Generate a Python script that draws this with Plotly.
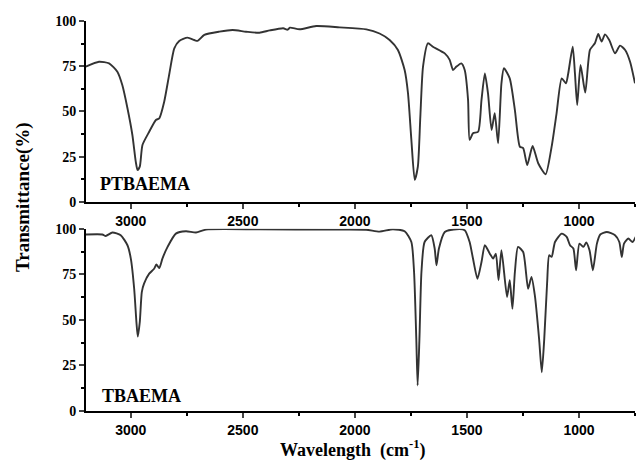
import plotly.graph_objects as go

# PTBAEMA spectrum (wavenumber cm-1, transmittance %)
ptb_wn = [3201, 3142, 3097, 3060, 3038, 3015, 2993, 2978, 2970, 2960, 2948, 2918, 2888, 2873,
          2851, 2829, 2806, 2784, 2747, 2717, 2702, 2672, 2605, 2546, 2486, 2426, 2380, 2320,
          2300, 2290, 2247, 2173, 2069, 1949, 1890, 1845, 1808, 1778, 1763, 1748, 1733, 1719,
          1708, 1696, 1674, 1652, 1599, 1577, 1562, 1547, 1525, 1510, 1495, 1488, 1473, 1450,
          1435, 1420, 1406, 1390, 1376, 1361, 1346, 1335, 1309, 1286, 1264, 1249, 1231, 1207,
          1182, 1149, 1122, 1100, 1077, 1058, 1048, 1028, 1018, 1008, 993, 972, 951, 929, 914,
          899, 884, 865, 839, 817, 794, 772, 750]
ptb_t = [74.8, 77.5, 76.6, 72.0, 64.6, 51.8, 37.0, 22.3, 17.7, 19.5, 31.5, 38.8, 45.3, 46.2,
         55.4, 70.2, 84.9, 89.0, 90.8, 89.5, 89.0, 92.3, 94.1, 95.0, 94.1, 93.5, 94.8, 96.0,
         95.2, 96.3, 95.4, 97.2, 96.5, 95.4, 93.1, 89.5, 84.0, 72.9, 60.0, 34.3, 12.2, 19.5,
         47.1, 74.8, 87.7, 85.8, 82.1, 78.5, 72.9, 74.8, 76.6, 72.9, 56.4, 34.3, 38.0, 38.8,
         56.4, 71.0, 60.0, 39.8, 49.0, 32.4, 65.6, 73.9, 68.3, 50.8, 30.6, 29.7, 20.4, 30.9,
         21.4, 15.3, 30.6, 49.0, 68.3, 65.6, 71.0, 85.8, 71.0, 53.6, 75.7, 60.4, 84.0, 87.7, 92.8,
         88.6, 92.6, 89.5, 82.1, 86.4, 84.0, 77.5, 65.6]

# TBAEMA spectrum
tb_wn = [3201, 3127, 3112, 3082, 3045, 3015, 3000, 2985, 2975, 2969, 2960, 2951, 2941, 2918,
         2896, 2886, 2873, 2859, 2836, 2799, 2754, 2709, 2665, 2426, 2100, 1950, 1890, 1830,
         1778, 1748, 1736, 1726, 1720, 1712, 1703, 1689, 1659, 1644, 1636, 1625, 1599, 1547,
         1510, 1488, 1473, 1453, 1435, 1420, 1398, 1383, 1371, 1359, 1346, 1321, 1309, 1297,
         1286, 1272, 1249, 1227, 1212, 1197, 1178, 1166, 1155, 1142, 1133, 1122, 1107, 1077,
         1055, 1040, 1025, 1013, 998, 980, 968, 953, 938, 920, 905, 876, 839, 820, 809, 799,
         780, 761, 747]
tb_t = [96.9, 96.9, 96.1, 98.0, 96.5, 91.0, 83.7, 67.1, 48.8, 40.9, 48.8, 65.3, 69.9, 75.4,
        78.1, 80.4, 78.5, 83.7, 90.1, 97.4, 98.7, 98.0, 99.6, 99.7, 99.6, 99.5, 98.5, 99.8,
        98.7, 92.8, 76.3, 39.6, 14.0, 39.6, 76.3, 92.8, 96.5, 89.2, 80.0, 89.2, 98.3, 99.8,
        99.3, 92.8, 83.7, 72.6, 81.8, 91.0, 86.4, 83.7, 86.4, 71.8, 88.3, 62.6, 71.8, 56.1,
        76.3, 90.1, 87.3, 67.1, 73.6, 63.5, 39.6, 21.3, 39.6, 70.8, 85.5, 84.6, 92.8, 97.4,
        95.6, 91.0, 89.2, 77.3, 91.9, 90.1, 92.5, 88.3, 77.3, 91.9, 96.9, 98.3, 96.5, 92.8,
        84.6, 91.9, 94.7, 92.8, 95.6]

sample_labels = ["PTBAEMA", "TBAEMA"]
x_ticks = [3000, 2500, 2000, 1500, 1000]
y_ticks = [0, 25, 50, 75, 100]

line_color = "#333333"
serif = "Liberation Serif, Times New Roman, serif"
sans = "Liberation Sans, Arial, sans-serif"

fig = go.Figure()
fig.add_trace(go.Scatter(x=ptb_wn, y=ptb_t, mode="lines", line=dict(color=line_color, width=1.9,
                                                                     shape="spline", smoothing=0.6),
                         xaxis="x", yaxis="y", showlegend=False, cliponaxis=True))
fig.add_trace(go.Scatter(x=tb_wn, y=tb_t, mode="lines", line=dict(color=line_color, width=1.9,
                                                                   shape="spline", smoothing=0.6),
                         xaxis="x2", yaxis="y2", showlegend=False, cliponaxis=True))

xcommon = dict(range=[3200, 750], tickvals=x_ticks, ticks="outside", ticklen=5, tickwidth=1.5,
               showline=True, linecolor="black", linewidth=2, showgrid=False, zeroline=False,
               tickfont=dict(family=sans, size=14, color="black", weight="bold"),
               minor=dict(dtick=250, ticks="outside", ticklen=3, tickcolor="black", tickwidth=1.5),
               mirror=False)
ycommon = dict(range=[0, 100], tickvals=y_ticks, ticks="outside", ticklen=5, tickwidth=1.5,
               showline=True, linecolor="black", linewidth=2, showgrid=False, zeroline=False,
               tickfont=dict(family=serif, size=14, color="black", weight="bold"),
               minor=dict(dtick=12.5, ticks="outside", ticklen=3, tickcolor="black", tickwidth=1.5))

fig.update_layout(
    width=636, height=461,
    margin=dict(l=86, r=1, t=21, b=50),
    paper_bgcolor="white", plot_bgcolor="white",
    xaxis=dict(domain=[0, 1], anchor="y", **xcommon),
    yaxis=dict(domain=[0.536, 1], anchor="x", **ycommon),
    xaxis2=dict(domain=[0, 1], anchor="y2", **xcommon),
    yaxis2=dict(domain=[0, 0.467], anchor="x2", **ycommon),
    annotations=[
        dict(text=sample_labels[0], x=2936, y=10, xref="x", yref="y", showarrow=False,
             font=dict(family=serif, size=18, color="black", weight="bold")),
        dict(text=sample_labels[1], x=2954, y=8, xref="x2", yref="y2", showarrow=False,
             font=dict(family=serif, size=18, color="black", weight="bold")),
        dict(text="Transmittance(%)", x=-63 / 549, y=0.549, xref="paper", yref="paper",
             textangle=-90, showarrow=False, xanchor="center", yanchor="middle",
             font=dict(family=serif, size=19, color="black", weight="bold")),
        dict(text="Wavelength  (cm<sup>-1</sup>)", x=(352 - 86) / 549, y=-0.097,
             xref="paper", yref="paper", showarrow=False, xanchor="center", yanchor="middle",
             font=dict(family=serif, size=18, color="black", weight="bold")),
    ],
)

fig.write_html("out.html", config={"displayModeBar": False},
               post_script="document.body.style.margin='0';document.body.style.overflow='hidden';")
